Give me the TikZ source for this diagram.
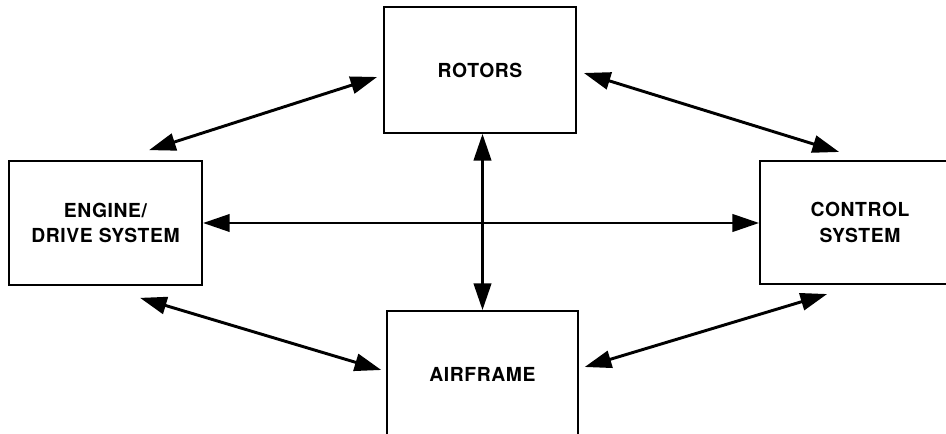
\documentclass[tikz,border=0pt]{standalone}
\usepackage{fontspec}
\setmainfont{TeX Gyre Heros}[LetterSpace=3]
\usetikzlibrary{arrows.meta,calc}

\tikzset{
  block/.style={draw, line width=1.3pt, inner sep=0pt, align=center,
    font=\bfseries\fontsize{14.5}{19}\selectfont},
  link/.style={{Triangle[length=20pt,width=13pt]}-{Triangle[length=20pt,width=13pt]}, line width=2.2pt},
}

\begin{document}
\begin{tikzpicture}[x=0.75pt,y=0.75pt,yscale=-1,xscale=1]
%set diagram at 946 x 434
\clip (0,0) rectangle (946,434);
\fill[white] (0,0) rectangle (946,434);

%Shape: Rectangle [id:rotors]
\node[block, minimum width=144pt, minimum height=94.5pt] (rotors) at (480,70) {ROTORS};
%Shape: Rectangle [id:engine]
\node[block, minimum width=145pt, minimum height=93pt] (engine) at (105.5,223) {ENGINE/\\DRIVE SYSTEM};
%Shape: Rectangle [id:control]
\node[block, minimum width=150pt, minimum height=92.5pt] (control) at (860,222.5) {CONTROL\\SYSTEM};
%Shape: Rectangle [id:airframe]
\node[block, minimum width=143pt, minimum height=94.5pt] (airframe) at (482.5,374) {AIRFRAME};

%Straight Lines
\draw[link] ($(engine.north east)+(-54,-10)$) -- ($(rotors.west)+(-6,7)$);
\draw[link] ($(rotors.east)+(7,3)$) -- ($(control.north west)+(80,-8)$);
\draw[link] ($(engine.south east)+(-63,12)$) -- ($(airframe.west)+(-5,-4)$);
\draw[link] ($(airframe.east)+(6,-7)$) -- ($(control.south west)+(68,9)$);
\draw[link] (airframe.north |- rotors.south) -- (airframe.north);
\draw[link] (engine.east) -- (engine.east -| control.west);

\end{tikzpicture}
\end{document}
